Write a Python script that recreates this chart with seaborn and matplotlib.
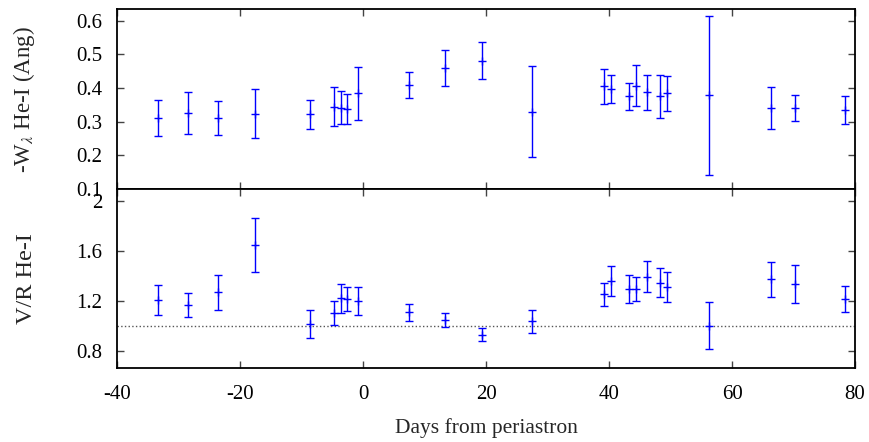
import matplotlib
matplotlib.use("Agg")
import matplotlib.pyplot as plt
import pandas as pd
import seaborn as sns

# days from periastron
days = [-33.3, -28.5, -23.5, -17.6, -8.6, -4.7, -3.6, -2.65, -0.76, 7.4, 13.3, 19.3,
        27.4, 39.2, 40.3, 43.25, 44.3, 46.2, 48.3, 49.4, 56.3, 66.4, 70.3, 78.3]

# -W_lambda He-I (Ang)
ew = [0.310, 0.326, 0.311, 0.324, 0.322, 0.345, 0.342, 0.338, 0.384, 0.410, 0.460, 0.481,
      0.330, 0.405, 0.398, 0.375, 0.407, 0.387, 0.375, 0.384, 0.378, 0.341, 0.341, 0.335]
ew_err = [0.053, 0.063, 0.050, 0.074, 0.043, 0.057, 0.049, 0.044, 0.078, 0.039, 0.053, 0.055,
          0.136, 0.053, 0.042, 0.040, 0.061, 0.052, 0.063, 0.051, 0.237, 0.062, 0.038, 0.041]

# V/R He-I
vr = [1.205, 1.165, 1.267, 1.648, 1.015, 1.103, 1.219, 1.213, 1.197, 1.106, 1.047, 0.929,
      1.034, 1.251, 1.358, 1.294, 1.294, 1.393, 1.345, 1.310, 0.999, 1.372, 1.334, 1.213]
vr_err = [0.118, 0.097, 0.141, 0.215, 0.114, 0.095, 0.117, 0.098, 0.111, 0.071, 0.055, 0.052,
          0.093, 0.092, 0.117, 0.109, 0.099, 0.123, 0.117, 0.121, 0.188, 0.141, 0.152, 0.103]

x_ticks = [-40, -20, 0, 20, 40, 60, 80]
ew_ticks = [0.1, 0.2, 0.3, 0.4, 0.5, 0.6]
vr_ticks = [0.8, 1.2, 1.6, 2.0]
vr_tick_labels = ['0.8', '1.2', '1.6', '2']

df = pd.DataFrame({'days': days, 'ew': ew, 'ew_err': ew_err, 'vr': vr, 'vr_err': vr_err})

sns.set_theme(style="ticks")
plt.rcParams['font.family'] = ['Liberation Serif', 'DejaVu Serif']
plt.rcParams['mathtext.fontset'] = 'stix'

BLUE = '#0000ff'
FS_TICK = 15
FS_LABEL = 16.5

fig = plt.figure(figsize=(8.69, 4.42), dpi=100)
ax_top = fig.add_axes([0.1346, 0.5725, 0.8494, 0.4065])
ax_bot = fig.add_axes([0.1346, 0.1667, 0.8494, 0.4058], sharex=ax_top)


def draw(ax, col, err):
    ax.errorbar(df['days'], df[col], yerr=df[err], fmt='none', ecolor=BLUE,
                elinewidth=1, capsize=2.6, capthick=1, zorder=3)
    sns.scatterplot(data=df, x='days', y=col, marker='+', s=28, color=BLUE,
                    linewidth=1, ax=ax, zorder=4)
    ax.set_xlabel('')
    for side in ax.spines.values():
        side.set_linewidth(1.3)
        side.set_color('black')
    ax.tick_params(direction='in', top=True, right=True, length=5, width=1,
                   color='#444444', labelsize=FS_TICK, labelcolor='black')
    ax.tick_params(axis='y', pad=10.5)
    ax.tick_params(axis='x', pad=12)


draw(ax_top, 'ew', 'ew_err')
draw(ax_bot, 'vr', 'vr_err')

ax_bot.axhline(1.0, color='#555555', linestyle=':', linewidth=1, zorder=1)

ax_top.set_xlim(-40, 80)
ax_top.set_xticks(x_ticks)
ax_top.tick_params(axis='x', labelbottom=False)
ax_top.set_ylim(0.1, 0.634)
ax_top.set_yticks(ew_ticks)
ax_top.set_yticklabels([f'{t:.1f}' for t in ew_ticks])

ax_bot.set_ylim(0.658, 2.097)
ax_bot.set_yticks(vr_ticks)
ax_bot.set_yticklabels(vr_tick_labels)
ax_bot.set_xticklabels([str(t) for t in x_ticks])

ax_top.set_ylabel(r'-W$_\lambda$ He-I (Ang)', fontsize=FS_LABEL)
ax_bot.set_ylabel('V/R He-I', fontsize=FS_LABEL + 1)
ax_bot.set_xlabel('Days from periastron', fontsize=FS_TICK + 0.5, labelpad=10)
ax_top.yaxis.set_label_coords(-0.108, 0.5)
ax_bot.yaxis.set_label_coords(-0.108, 0.5)

fig.savefig('out.png', dpi=100)
